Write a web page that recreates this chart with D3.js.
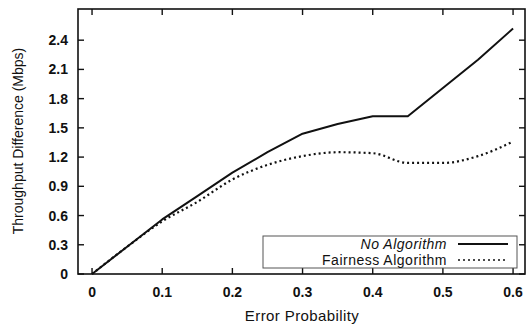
<!DOCTYPE html>
<html>
<head>
<meta charset="utf-8">
<script src="https://cdn.jsdelivr.net/npm/d3@7"></script>
<style>
  body { margin: 0; background: #fff; }
  svg { display: block; font-family: "Liberation Sans", Arial, sans-serif; }
</style>
</head>
<body>
<div class="svg-chart"></div>
<script>
// data
const errorProb = [0, 0.05, 0.1, 0.15, 0.2, 0.25, 0.3, 0.35, 0.4, 0.45, 0.5, 0.55, 0.6];
const noAlgorithm = [0, 0.28, 0.56, 0.80, 1.04, 1.25, 1.44, 1.54, 1.62, 1.62, 1.91, 2.20, 2.52];
const fairnessAlgorithm = [0, 0.28, 0.54, 0.74, 0.97, 1.12, 1.21, 1.25, 1.24, 1.14, 1.14, 1.21, 1.36];
const xTicks = [0, 0.1, 0.2, 0.3, 0.4, 0.5, 0.6];
const yTicks = [0, 0.3, 0.6, 0.9, 1.2, 1.5, 1.8, 2.1, 2.4];
const seriesNames = ["No Algorithm", "Fairness Algorithm"];

let width = 527;
let height = 328;
let margin = ({ top: 9, right: 2, bottom: 54, left: 78 });

const svg = d3.select('.svg-chart').append('svg')
    .attr('width', width)
    .attr('height', height);

let x = d3.scaleLinear()
    .domain([-0.02, 0.617])
    .range([margin.left, width - margin.right]);

let y = d3.scaleLinear()
    .domain([0, 2.72])
    .range([height - margin.bottom, margin.top]);

const ink = "#111";
const tickLen = 6;

// frame
svg.append("rect")
    .attr("x", x.range()[0])
    .attr("y", y.range()[1])
    .attr("width", x.range()[1] - x.range()[0])
    .attr("height", y.range()[0] - y.range()[1])
    .attr("fill", "none")
    .attr("stroke", ink)
    .attr("stroke-width", 1.6);

// ticks, inward on all four sides
const yTickG = svg.append("g");
yTicks.forEach(t => {
    yTickG.append("line")
        .attr("x1", x.range()[0]).attr("x2", x.range()[0] + tickLen)
        .attr("y1", y(t)).attr("y2", y(t))
        .attr("stroke", ink).attr("stroke-width", 1.4);
    yTickG.append("line")
        .attr("x1", x.range()[1]).attr("x2", x.range()[1] - tickLen)
        .attr("y1", y(t)).attr("y2", y(t))
        .attr("stroke", ink).attr("stroke-width", 1.4);
    yTickG.append("text")
        .attr("x", x.range()[0] - 10)
        .attr("y", y(t))
        .attr("dy", "0.36em")
        .attr("text-anchor", "end")
        .attr("font-size", 14)
        .attr("font-weight", "bold")
        .attr("fill", ink)
        .text(d3.format(t === 0 ? "d" : ".1f")(t));
});

const xTickG = svg.append("g");
xTicks.forEach(t => {
    xTickG.append("line")
        .attr("x1", x(t)).attr("x2", x(t))
        .attr("y1", y.range()[0]).attr("y2", y.range()[0] - tickLen)
        .attr("stroke", ink).attr("stroke-width", 1.4);
    xTickG.append("line")
        .attr("x1", x(t)).attr("x2", x(t))
        .attr("y1", y.range()[1]).attr("y2", y.range()[1] + tickLen)
        .attr("stroke", ink).attr("stroke-width", 1.4);
    xTickG.append("text")
        .attr("x", x(t))
        .attr("y", y.range()[0] + 23)
        .attr("text-anchor", "middle")
        .attr("font-size", 14)
        .attr("font-weight", "bold")
        .attr("fill", ink)
        .text(t === 0 ? "0" : d3.format(".1f")(t));
});

// axis titles
svg.append("text")
    .attr("x", 302)
    .attr("y", 321)
    .attr("text-anchor", "middle")
    .attr("font-size", 15)
    .attr("letter-spacing", 0.4)
    .attr("fill", ink)
    .text("Error Probability");

svg.append("text")
    .attr("transform", "translate(23,141) rotate(-90)")
    .attr("text-anchor", "middle")
    .attr("font-size", 14)
    .attr("fill", ink)
    .text("Throughput Difference (Mbps)");

// lines
let solidLine = d3.line()
    .x((d, i) => x(errorProb[i]))
    .y(d => y(d));

let smoothLine = d3.line()
    .x((d, i) => x(errorProb[i]))
    .y(d => y(d))
    .curve(d3.curveMonotoneX);

svg.append("path")
    .datum(fairnessAlgorithm)
    .attr("fill", "none")
    .attr("stroke", ink)
    .attr("stroke-width", 2.2)
    .attr("stroke-dasharray", "2,3")
    .attr("d", smoothLine);

svg.append("path")
    .datum(noAlgorithm)
    .attr("fill", "none")
    .attr("stroke", ink)
    .attr("stroke-width", 2)
    .attr("stroke-linejoin", "round")
    .attr("d", solidLine);

// legend
const legend = svg.append("g");
legend.append("rect")
    .attr("x", 263).attr("y", 236)
    .attr("width", 254).attr("height", 32)
    .attr("fill", "#fff")
    .attr("stroke", "#555")
    .attr("stroke-width", 1);

seriesNames.forEach((name, i) => {
    const ly = 244 + i * 16;
    legend.append("text")
        .attr("x", 447)
        .attr("y", ly)
        .attr("dy", "0.36em")
        .attr("text-anchor", "end")
        .attr("font-size", 14)
        .attr("letter-spacing", 0.5)
        .attr("font-style", i === 0 ? "italic" : "normal")
        .attr("fill", ink)
        .text(name);
    legend.append("line")
        .attr("x1", 458).attr("x2", 508)
        .attr("y1", ly).attr("y2", ly)
        .attr("stroke", ink)
        .attr("stroke-width", i === 0 ? 2 : 1.6)
        .attr("stroke-dasharray", i === 0 ? null : "2,3");
});
</script>
</body>
</html>
